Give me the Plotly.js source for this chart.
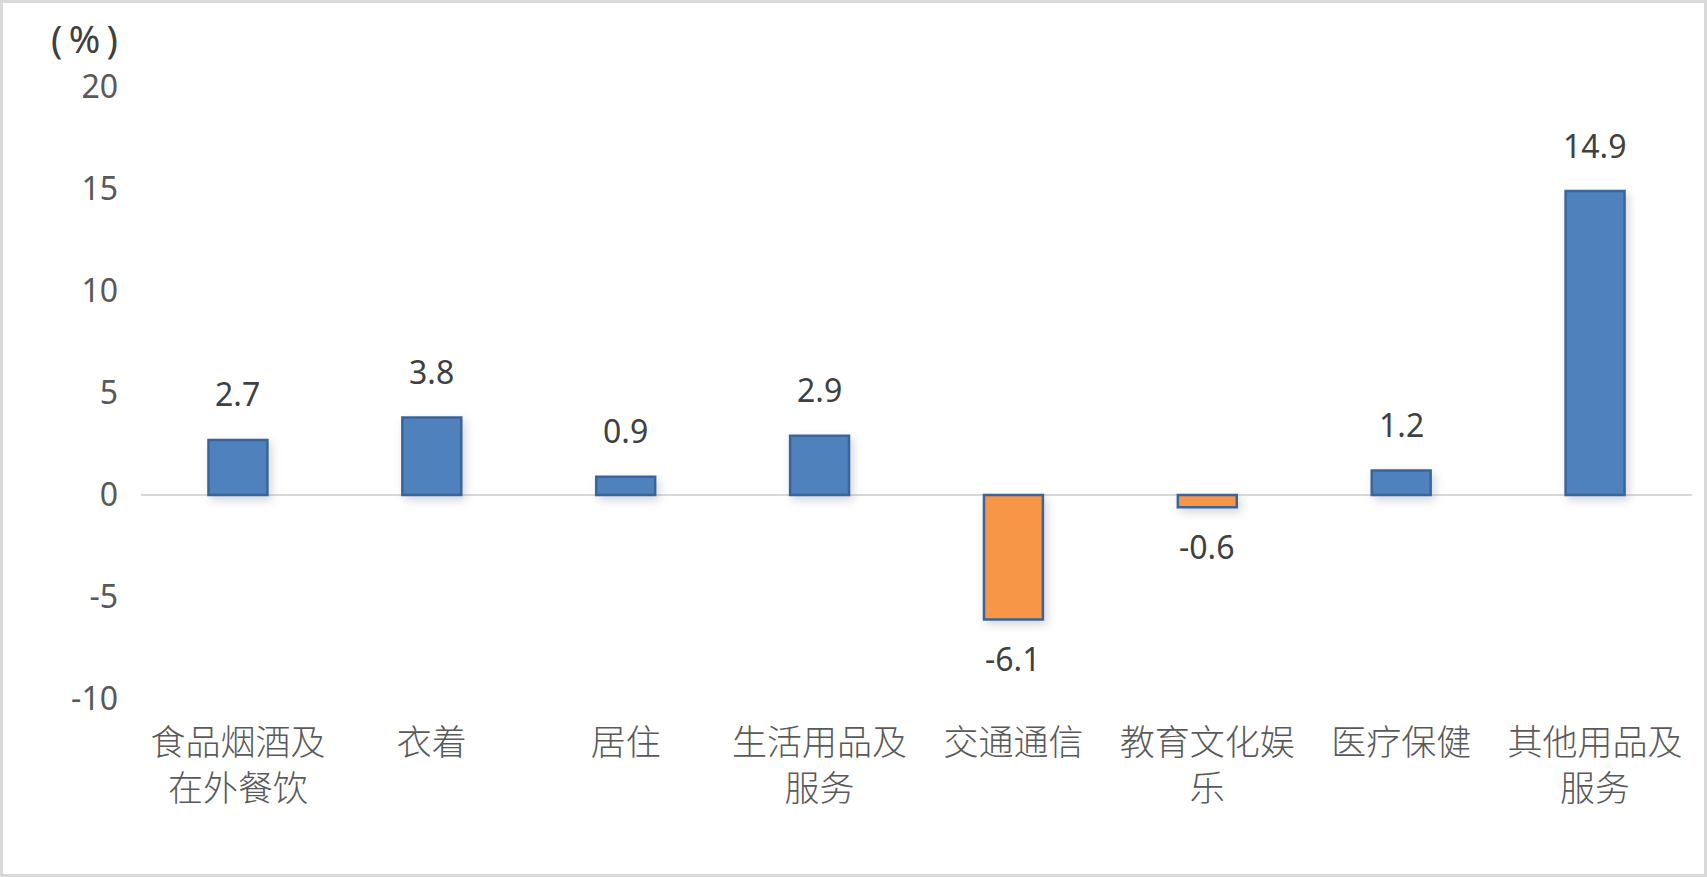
<!DOCTYPE html>
<html>
<head>
<meta charset="utf-8">
<script src="https://cdn.plot.ly/plotly-3.0.1.min.js"></script>
<style>
  body { margin: 0; background: #fff; }
  #chart { width: 1701px; height: 871px; border: 3px solid #D9D9D9; }
  #chart .trace.bars .point path { filter: drop-shadow(3px 4px 5px rgba(60,70,90,0.22)); }
</style>
</head>
<body>
<div id="chart"></div>
<script>
// categories and values (%)
const categories = [
  '食品烟酒及<br>在外餐饮', '衣着', '居住', '生活用品及<br>服务',
  '交通通信', '教育文化娱<br>乐', '医疗保健', '其他用品及<br>服务'
];
const values = [2.7, 3.8, 0.9, 2.9, -6.1, -0.6, 1.2, 14.9];
const yTicks = [-10, -5, 0, 5, 10, 15, 20];

const POS_COLOR = '#4F81BD';
const NEG_COLOR = '#F79646';
const BORDER = '#3A659A';
const NUM_FONT = 'Noto Sans, Open Sans, sans-serif';
const CJK_FONT = '"Noto Sans CJK SC", sans-serif';

const barColors = values.map(v => v < 0 ? NEG_COLOR : POS_COLOR);

// value labels sit a fixed distance beyond the bar end
const valueLabels = values.map((v, i) => ({
  x: categories[i], y: v, xref: 'x', yref: 'y',
  text: v.toFixed(1), showarrow: false,
  yanchor: 'middle', yshift: v < 0 ? -39 : 46,
  font: { family: NUM_FONT, size: 32, color: '#404040' },
}));

Plotly.newPlot('chart', [{
  x: categories, y: values, type: 'bar',
  marker: { color: barColors, line: { color: BORDER, width: 2.5 } },
  hoverinfo: 'skip',
}], {
  width: 1701, height: 871,
  paper_bgcolor: '#FFFFFF', plot_bgcolor: '#FFFFFF',
  margin: { l: 137.5, r: 12, t: 84, b: 174.5 },
  bargap: 0.696,
  showlegend: false,
  xaxis: {
    showgrid: false, showline: false, ticks: '',
    ticklabelstandoff: 20,
    tickfont: { family: CJK_FONT, size: 35, color: '#595959', weight: 300 },
    automargin: false,
  },
  yaxis: {
    range: [-10, 20], tickvals: yTicks, ticktext: yTicks.map(String),
    showgrid: false, showline: false, ticks: '',
    zeroline: true, zerolinecolor: '#D9D9D9', zerolinewidth: 2.7,
    ticklabelstandoff: 22,
    tickfont: { family: NUM_FONT, size: 32, color: '#595959' },
    automargin: false,
  },
  annotations: [
    ...valueLabels,
    {
      x: -0.0367, y: 1.08, xref: 'paper', yref: 'paper',
      text: '(&#8201;%&#8201;)', showarrow: false, xanchor: 'center', yanchor: 'middle',
      font: { family: NUM_FONT, size: 38, color: '#404040' },
    },
  ],
}, { displayModeBar: false, staticPlot: true });
</script>
</body>
</html>
